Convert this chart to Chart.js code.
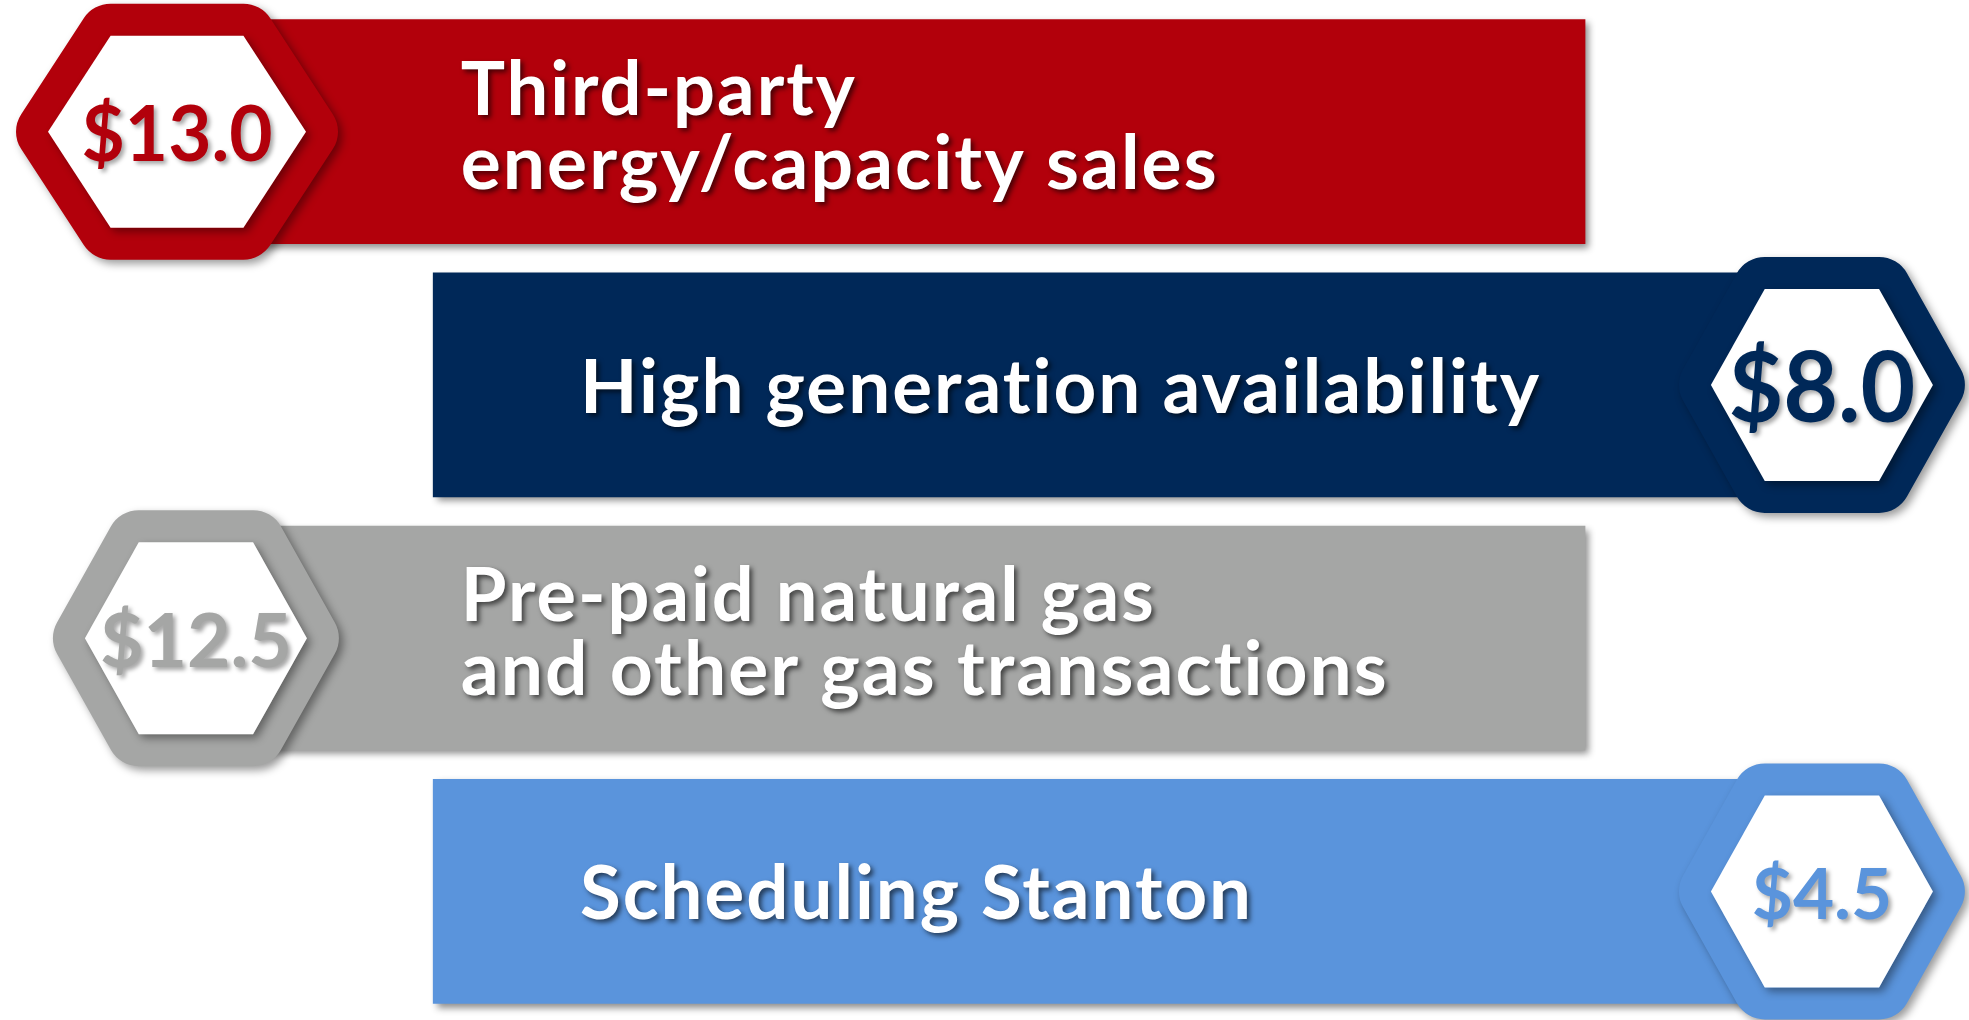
<!DOCTYPE html>
<html>
<head>
<meta charset="utf-8">
<script src="https://cdn.jsdelivr.net/npm/chart.js@4.4.0/dist/chart.umd.min.js"></script>
<style>
html, body { margin: 0; padding: 0; background: #fff; }
#wrap { width: 1969px; height: 1020px; position: relative; }
</style>
</head>
<body>
<div id="wrap"><canvas id="drivers"></canvas></div>
<script>
// rows, top to bottom
const categories = [
    ['Third-party', 'energy/capacity sales'],
    ['High generation availability'],
    ['Pre-paid natural gas', 'and other gas transactions'],
    ['Scheduling Stanton']
];
const values = [13.0, 8.0, 12.5, 4.5];
const sides = ['left', 'right', 'left', 'right'];
const colors = ['#B2000B', '#002858', '#A5A6A5', '#5A94DC'];

// layout (x in fractions of the chart width)
const band = { left: [0.10, 0.805], right: [0.22, 0.915] };
const hexAt = [0.0899, 0.9253, 0.0995, 0.9253];
const hexHalfW = [129, 111, 111, 111];
const hexHalfH = 96;
const valueSize = [76, 97, 75, 71];
const valueWidth = [191, 187, 195, 146];
const labelX = { left: 0.234, right: 0.2946 };
const labelWidths = [[396, 760], [961], [695, 928], [673]];

function hexPath(ctx, cx, cy, w, h) {
    const f = w * 0.515;
    ctx.beginPath();
    ctx.moveTo(cx - w, cy);
    ctx.lineTo(cx - f, cy - h);
    ctx.lineTo(cx + f, cy - h);
    ctx.lineTo(cx + w, cy);
    ctx.lineTo(cx + f, cy + h);
    ctx.lineTo(cx - f, cy + h);
    ctx.closePath();
}

const badgePlugin = {
    id: 'badges',
    beforeDatasetsDraw(chart) {
        const ctx = chart.ctx;
        ctx.save();
        ctx.shadowColor = 'rgba(0,0,0,0.45)';
        ctx.shadowBlur = 7;
        ctx.shadowOffsetX = 4;
        ctx.shadowOffsetY = 4;
    },
    afterDatasetsDraw(chart) {
        const ctx = chart.ctx;
        ctx.restore();
        const bars = chart.getDatasetMeta(0).data;
        const xs = chart.scales.x;

        values.forEach((v, i) => {
            const cy = bars[i].y;
            const cx = xs.getPixelForValue(hexAt[i]);

            // hexagon frame
            ctx.save();
            ctx.shadowColor = 'rgba(0,0,0,0.4)';
            ctx.shadowBlur = 8;
            ctx.shadowOffsetX = 4;
            ctx.shadowOffsetY = 4;
            ctx.strokeStyle = colors[i];
            ctx.fillStyle = colors[i];
            ctx.lineWidth = 64;
            ctx.lineJoin = 'round';
            hexPath(ctx, cx, cy, hexHalfW[i], hexHalfH);
            ctx.stroke();
            ctx.fill();
            ctx.restore();

            ctx.save();
            ctx.fillStyle = '#fff';
            hexPath(ctx, cx, cy, hexHalfW[i], hexHalfH);
            ctx.fill();

            // value
            const size = valueSize[i];
            ctx.font = 'bold ' + size + 'px Lato';
            ctx.textAlign = 'center';
            ctx.textBaseline = 'alphabetic';
            ctx.shadowColor = 'rgba(0,0,0,0.35)';
            ctx.shadowBlur = 4;
            ctx.shadowOffsetX = 3;
            ctx.shadowOffsetY = 3;
            ctx.fillStyle = colors[i];
            ctx.fillText('$' + v.toFixed(1), cx, cy + size * 0.717 / 2 + 2, valueWidth[i]);
            ctx.restore();

            // label
            const lines = categories[i];
            const lx = xs.getPixelForValue(labelX[sides[i]]);
            const base = lines.length > 1 ? [cy - 17, cy + 57] : [cy + 28];
            ctx.save();
            ctx.font = 'bold 75px Lato';
            ctx.letterSpacing = '2px';
            ctx.textAlign = 'left';
            ctx.textBaseline = 'alphabetic';
            ctx.fillStyle = '#fff';
            ctx.shadowColor = 'rgba(0,0,0,0.6)';
            ctx.shadowBlur = 5;
            ctx.shadowOffsetX = 3;
            ctx.shadowOffsetY = 3;
            lines.forEach((line, j) => {
                ctx.fillText(line, lx, base[j], labelWidths[i][j]);
            });
            ctx.restore();
        });
    }
};

const ctx = document.getElementById('drivers').getContext('2d');
const chart = new Chart(ctx, {
    type: 'bar',
    data: {
        labels: categories,
        datasets: [{
            data: sides.map(s => band[s]),
            backgroundColor: colors,
            borderWidth: 0,
            borderSkipped: false,
            barThickness: 224
        }]
    },
    options: {
        indexAxis: 'y',
        responsive: true,
        maintainAspectRatio: false,
        animation: false,
        layout: { padding: { top: 5, bottom: 2, left: 0, right: 0 } },
        scales: {
            x: { type: 'linear', min: 0, max: 1, display: false },
            y: { display: false }
        },
        plugins: {
            legend: { display: false },
            tooltip: { enabled: false }
        }
    },
    plugins: [badgePlugin]
});
</script>
</body>
</html>
